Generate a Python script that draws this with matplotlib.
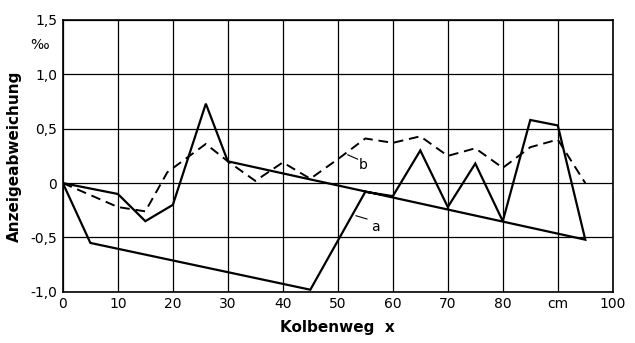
import matplotlib.pyplot as plt

# curve a (solid, closed loop) - Kolbenweg in cm, Anzeigeabweichung in per mille
a_x = [0, 5, 45, 55, 60, 65, 70, 75, 80, 85, 90, 95, 30, 26, 20, 15, 10, 0]
a_y = [0, -0.55, -0.98, -0.08, -0.12, 0.30, -0.22, 0.18, -0.35, 0.58, 0.53, -0.52,
       0.20, 0.73, -0.20, -0.35, -0.10, 0]

# curve b (dashed)
b_x = [0, 10, 15, 19, 26, 30, 35, 40, 45, 50, 55, 60, 65, 70, 75, 80, 85, 90, 95]
b_y = [0, -0.22, -0.26, 0.10, 0.36, 0.20, 0.02, 0.19, 0.04, 0.22, 0.41, 0.37,
       0.43, 0.25, 0.32, 0.14, 0.33, 0.40, 0.0]

x_ticks = [0, 10, 20, 30, 40, 50, 60, 70, 80, 90, 100]
x_labels = ['0', '10', '20', '30', '40', '50', '60', '70', '80', 'cm', '100']
y_ticks = [-1.0, -0.5, 0, 0.5, 1.0, 1.5]
y_labels = ['-1,0', '-0,5', '0', '0,5', '1,0', '1,5']

plt.rcParams['font.family'] = 'DejaVu Sans'

fig = plt.figure(figsize=(6.35, 3.43), dpi=100)
ax = fig.add_axes([0.099, 0.149, 0.866, 0.793])

ax.plot(a_x, a_y, color='black', lw=1.6, solid_joinstyle='miter')
ax.plot(b_x, b_y, color='black', lw=1.4, dashes=(5, 3))

# curve labels with small leader lines
ax.text(56, -0.40, 'a', fontsize=10, ha='left', va='center')
ax.plot([53.3, 55.3], [-0.30, -0.33], color='black', lw=0.8)
ax.text(53.8, 0.17, 'b', fontsize=10, ha='left', va='center')
ax.plot([51.8, 53.6], [0.26, 0.22], color='black', lw=0.8)

ax.set_xlim(0, 100)
ax.set_ylim(-1.0, 1.5)
ax.set_xticks(x_ticks)
ax.set_xticklabels(x_labels, fontsize=10)
ax.set_yticks(y_ticks)
ax.set_yticklabels(y_labels, fontsize=10)
ax.tick_params(length=0, pad=4)

ax.grid(True, color='black', lw=0.9)
ax.set_axisbelow(True)
for s in ax.spines.values():
    s.set_linewidth(1.2)

ax.text(-0.025, 1.27, '‰', transform=ax.get_yaxis_transform(), fontsize=10,
        ha='right', va='center')
ax.set_ylabel('Anzeigeabweichung', fontsize=11, fontweight='bold', labelpad=6)
ax.set_xlabel('Kolbenweg  x', fontsize=11, fontweight='bold', labelpad=6)

fig.savefig('out.png', dpi=100)
